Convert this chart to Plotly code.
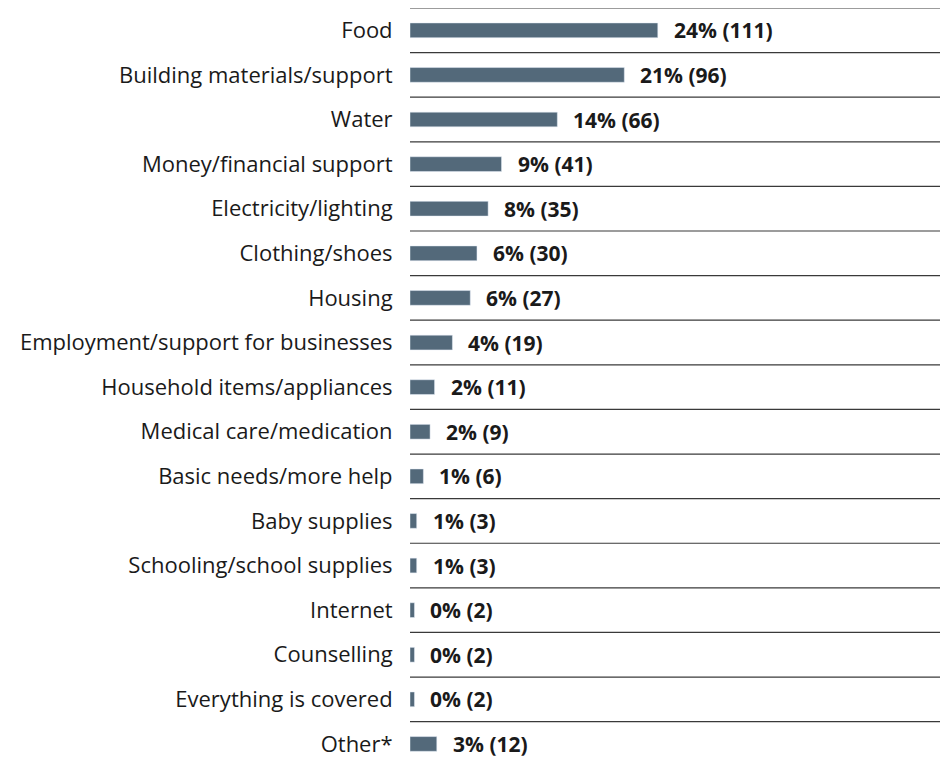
import plotly.graph_objects as go

# Categories (top to bottom), counts and percentage labels
categories = [
    'Food', 'Building materials/support', 'Water', 'Money/financial support',
    'Electricity/lighting', 'Clothing/shoes', 'Housing',
    'Employment/support for businesses', 'Household items/appliances',
    'Medical care/medication', 'Basic needs/more help', 'Baby supplies',
    'Schooling/school supplies', 'Internet', 'Counselling',
    'Everything is covered', 'Other*'
]
counts = [111, 96, 66, 41, 35, 30, 27, 19, 11, 9, 6, 3, 3, 2, 2, 2, 12]
percents = [24, 21, 14, 9, 8, 6, 6, 4, 2, 2, 1, 1, 1, 0, 0, 0, 3]

positions = list(range(len(categories)))
labels = [f'{p}% ({c})' for p, c in zip(percents, counts)]

FONT = 'Open Sans'

fig = go.Figure(go.Bar(
    x=counts,
    y=positions,
    orientation='h',
    width=0.33,
    marker=dict(color='#53697a'),
    hoverinfo='skip',
))

# Bold value labels to the right of each bar
for c, pos, lab in zip(counts, positions, labels):
    fig.add_annotation(x=c, y=pos, text=f'<b>{lab}</b>', showarrow=False,
                       xanchor='left', xshift=14,
                       font=dict(size=21, color='#1a1a1a', family=FONT))

# Horizontal divider lines between rows
for pos in positions:
    fig.add_shape(type='line', xref='paper', x0=0, x1=1, yref='y',
                  y0=pos - 0.5, y1=pos - 0.5,
                  line=dict(color='#3a3a3a', width=1.2))

# page has an 8px body margin, so the figure is sized to fit inside
fig.update_layout(
    width=940, height=752,
    margin=dict(l=402, r=0, t=0, b=0),
    plot_bgcolor='white', paper_bgcolor='white',
    showlegend=False,
    font=dict(family=FONT, size=22, color='#1a1a1a'),
    xaxis=dict(range=[0, 241], visible=False),
    yaxis=dict(
        range=[16.36, -0.5],
        tickvals=positions, ticktext=categories,
        showgrid=False, zeroline=False, showline=False,
        ticks='outside', ticklen=12, tickcolor='rgba(0,0,0,0)',
        tickfont=dict(size=22, family=FONT, color='#1a1a1a'),
    ),
)

fig.write_html('out.html')
